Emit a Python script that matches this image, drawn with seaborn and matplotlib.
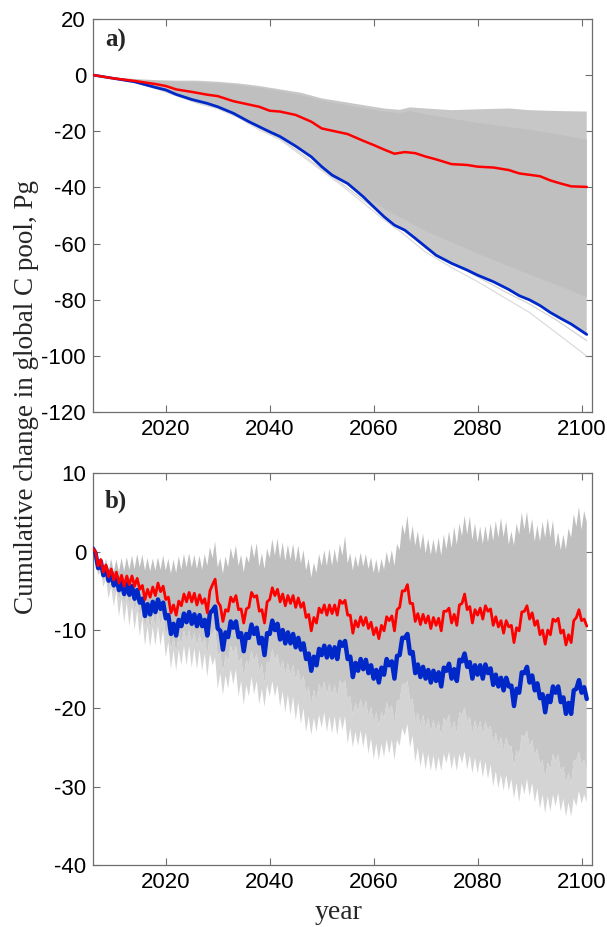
import numpy as np
import pandas as pd
import matplotlib
matplotlib.use('Agg')
import matplotlib.pyplot as plt
import seaborn as sns

# ---------------------------------------------------------------------------
# panel a: cumulative change
# ---------------------------------------------------------------------------
yrs_a = [2006, 2010, 2014, 2018, 2020, 2022, 2025, 2028, 2030, 2033, 2036, 2038, 2040,
         2042, 2045, 2048, 2050, 2052, 2055, 2058, 2060, 2062, 2064, 2066, 2068, 2070,
         2072, 2075, 2078, 2080, 2083, 2086, 2088, 2090, 2092, 2094, 2096, 2098, 2101]
red_a = [0, -1.2, -2.1, -3.2, -3.9, -5.1, -6.0, -7.0, -7.5, -9.3, -10.5, -11.3, -12.7,
         -13.0, -14.2, -16.6, -19.0, -19.8, -21.0, -23.4, -24.9, -26.5, -28.0, -27.4, -27.8, -29.0,
         -30.0, -31.7, -32.0, -32.6, -32.9, -33.8, -35.0, -35.5, -36.0, -37.5, -38.6, -39.6, -39.8]
blue_a = [0, -1.2, -2.4, -4.4, -5.3, -6.9, -8.7, -10.1, -11.3, -13.6, -16.6, -18.4, -20.2,
          -21.9, -25.3, -29.1, -32.6, -35.6, -38.6, -43.3, -46.9, -50.4, -53.4, -55.2, -58.1, -61.1,
          -64.1, -67.0, -69.4, -71.2, -73.5, -76.3, -78.5, -80.0, -82.0, -84.5, -86.6, -88.6, -92.3]

# ensemble spread in panel a
yrs_ga = [2006, 2010, 2014, 2018, 2022, 2026, 2030, 2034, 2038, 2042, 2046, 2050,
          2054, 2058, 2062, 2065, 2067, 2070, 2075, 2080, 2086, 2090, 2095, 2101]
up_out_a = [0, -0.8, -1.4, -1.8, -2.0, -2.0, -2.4, -3.0, -3.9, -5.1, -6.3, -8.3,
            -9.5, -10.7, -11.9, -12.4, -11.5, -11.9, -12.5, -12.2, -11.9, -12.5, -12.8, -13.0]
up_den_a = [0, -0.9, -1.6, -2.1, -2.4, -2.6, -3.0, -3.6, -4.6, -5.8, -7.2, -9.0,
            -10.5, -11.8, -13.0, -13.6, -12.8, -14.0, -15.5, -17.0, -18.5, -19.5, -21.0, -23.0]
lo_den_a = [0, -1.2, -2.4, -4.4, -6.9, -9.4, -11.3, -14.3, -18.4, -21.9, -26.4, -32.6,
            -37.6, -42.5, -47.5, -50.5, -52.5, -55.5, -59.5, -63.5, -68.0, -71.0, -74.5, -79.0]
low2_a = [0, -1.3, -2.5, -4.6, -7.2, -9.8, -11.7, -14.8, -19.0, -22.6, -27.8, -33.5,
          -38.8, -44.5, -50.0, -54.0, -56.8, -61.5, -66.8, -71.8, -77.8, -81.5, -87.0, -94.5]
low_a = [0, -1.3, -2.6, -4.8, -7.4, -10.0, -12.0, -15.2, -19.5, -23.0, -28.5, -34.0,
         -39.5, -45.5, -51.5, -55.5, -58.5, -63.0, -68.5, -73.5, -80.1, -84.5, -91.5, -100.0]

# ---------------------------------------------------------------------------
# panel b: half-year steps 2006.0, 2006.5, ... 2101.0
# ---------------------------------------------------------------------------
yrs_b = np.arange(2006, 2101.01, 0.5)

red_b = [0.4, 0.0, -1.8, -1.0, -2.6, -1.7, -3.2, -2.2, -3.6, -2.6,
         -4.0, -3.0, -4.4, -3.1, -4.2, -3.1, -4.4, -3.4, -4.8, -4.3,
         -6.1, -4.8, -5.8, -4.5, -5.6, -4.0, -5.1, -4.4, -6.1, -5.8,
         -7.8, -6.8, -8.1, -6.3, -6.9, -5.4, -6.4, -5.2, -6.4, -5.3,
         -6.8, -5.5, -6.6, -6.0, -7.8, -5.0, -4.2, -3.5, -6.4, -6.9,
         -8.9, -7.4, -7.6, -5.8, -6.4, -5.6, -7.4, -7.3, -9.1, -7.3,
         -7.1, -5.2, -5.8, -5.6, -7.6, -7.4, -9.1, -6.4, -6.1, -4.6,
         -5.6, -4.8, -6.4, -5.4, -6.9, -5.6, -6.6, -5.6, -7.1, -5.9,
         -7.1, -6.5, -8.4, -8.0, -10.1, -8.4, -9.1, -7.2, -7.8, -6.8,
         -8.1, -6.8, -7.9, -6.8, -8.1, -6.2, -6.6, -6.2, -8.1, -8.1,
         -10.4, -8.8, -9.6, -8.3, -9.4, -8.4, -9.8, -9.0, -10.6, -9.7,
         -11.1, -9.4, -10.1, -8.3, -8.8, -8.2, -10.1, -7.4, -7.1, -5.0,
         -5.0, -4.2, -6.6, -6.6, -8.9, -7.9, -9.3, -8.0, -9.1, -8.2,
         -9.8, -8.4, -9.4, -8.5, -10.1, -7.6, -7.6, -7.2, -9.1, -8.0,
         -9.4, -6.8, -6.6, -5.4, -7.4, -7.0, -9.1, -7.4, -8.1, -7.2,
         -8.6, -6.9, -7.6, -7.3, -9.4, -8.3, -9.6, -8.8, -10.4, -8.8,
         -9.6, -9.4, -11.6, -9.7, -10.1, -7.7, -7.6, -6.9, -8.6, -7.8,
         -9.4, -8.8, -10.6, -10.0, -11.8, -10.0, -10.6, -8.6, -8.9, -8.5,
         -10.4, -10.0, -11.9, -10.6, -11.6, -8.8, -8.4, -7.4, -8.8, -8.6,
         -9.5]

blue_b = [0.4, -0.2, -2.1, -1.2, -3.0, -2.0, -3.7, -2.6, -4.3, -3.2,
          -4.9, -3.8, -5.4, -4.1, -5.5, -4.4, -6.0, -4.9, -6.5, -6.0,
          -8.2, -6.7, -8.0, -6.4, -7.7, -6.1, -7.3, -6.5, -8.5, -8.1,
          -10.5, -9.2, -10.7, -8.7, -9.5, -7.9, -9.0, -7.7, -9.2, -8.0,
          -9.5, -8.1, -9.5, -8.7, -10.7, -7.8, -7.5, -7.0, -9.8, -10.1,
          -12.5, -10.3, -10.9, -8.9, -9.7, -8.9, -10.9, -10.4, -12.7, -10.5,
          -11.0, -9.3, -10.5, -9.7, -11.7, -11.0, -13.2, -10.4, -10.5, -8.8,
          -10.0, -9.2, -11.2, -10.0, -11.7, -10.3, -11.7, -10.5, -12.2, -11.0,
          -12.5, -11.7, -13.7, -13.0, -15.2, -13.4, -14.5, -12.4, -13.2, -12.0,
          -13.5, -12.1, -13.5, -12.2, -13.7, -11.5, -12.0, -11.4, -13.7, -13.4,
          -16.0, -14.2, -15.2, -13.7, -15.0, -13.8, -15.5, -14.5, -16.2, -15.1,
          -16.7, -14.8, -15.7, -13.7, -14.5, -14.0, -16.2, -13.3, -13.2, -11.0,
          -11.0, -10.5, -13.0, -12.8, -15.5, -14.4, -16.0, -14.7, -16.2, -15.1,
          -16.7, -15.2, -16.5, -15.4, -17.2, -14.8, -15.2, -14.3, -16.2, -15.0,
          -16.5, -13.8, -14.0, -13.0, -14.7, -14.1, -16.2, -14.5, -15.7, -14.5,
          -16.2, -14.4, -15.5, -14.9, -17.0, -15.7, -17.2, -16.1, -17.7, -16.1,
          -17.2, -17.1, -19.7, -17.5, -18.0, -15.4, -15.5, -14.7, -16.7, -15.8,
          -17.7, -16.8, -18.7, -18.2, -20.5, -18.4, -19.2, -17.2, -18.0, -17.2,
          -19.2, -18.6, -20.7, -19.3, -20.7, -17.7, -17.5, -16.4, -18.0, -17.3,
          -18.8]

# upper edge of the ensemble
up_b = [0.5, -0.3, -1.5, -0.7, -2.2, -0.9, -2.5, -0.9, -2.6, -1.0,
        -2.6, -0.8, -2.5, -0.7, -2.3, -0.5, -2.2, -0.3, -2.0, -0.4,
        -2.4, -0.8, -2.5, -0.9, -2.4, -0.7, -2.3, -0.5, -2.4, -0.9,
        -2.8, -1.0, -2.7, -0.6, -2.3, -0.3, -2.0, -0.2, -2.0, -0.4,
        -2.2, -0.5, -2.3, -0.3, -1.8, 0.6, -0.8, 1.3, -2.0, -0.8,
        -2.8, -0.6, -2.0, 0.5, -1.0, 0.8, -1.8, -0.4, -2.6, -0.5,
        -1.4, 1.0, -0.8, 1.1, -1.9, -0.2, -2.2, 0.4, -0.8, 1.6,
        -0.5, 1.7, -0.9, 1.2, -1.2, 0.9, -1.0, 1.0, -1.3, 0.8,
        -1.5, 0.2, -2.4, -0.9, -3.3, -1.4, -2.7, -0.3, -1.8, 0.2,
        -1.8, 0.4, -1.8, 0.3, -1.5, 1.0, -0.5, 2.0, -1.5, -0.2,
        -2.4, -0.5, -2.0, -0.1, -1.9, -0.3, -2.2, -0.7, -2.7, -1.0,
        -2.8, -0.9, -2.3, 0.0, -1.6, 0.2, -1.8, 1.0, 0.2, 3.5,
        2.2, 4.6, 1.2, 3.3, 0.8, 2.6, 0.3, 2.3, -0.2, 1.7,
        -0.4, 1.6, -0.3, 1.8, -0.5, 2.2, 0.3, 2.6, 0.5, 3.2,
        0.9, 3.6, 2.0, 4.6, 2.2, 4.5, 1.5, 3.6, 1.2, 3.2,
        1.0, 3.3, 1.2, 3.6, 1.4, 3.9, 1.8, 4.3, 1.9, 3.9,
        0.9, 2.6, 0.8, 3.6, 2.2, 5.0, 2.8, 5.1, 2.2, 4.2,
        1.3, 3.4, 1.3, 3.8, 1.8, 4.3, 1.8, 4.0, 0.6, 2.5,
        0.2, 2.2, 0.3, 3.0, 1.8, 4.8, 3.2, 5.7, 2.8, 5.2,
        3.8]

# lower edge of the densely packed members
dlo_b = [0.4, -1.0, -2.6, -1.8, -3.8, -2.8, -4.8, -3.5, -5.5, -4.2,
         -6.2, -4.9, -6.8, -5.3, -7.0, -5.6, -7.6, -6.2, -8.2, -7.2,
         -9.8, -8.2, -9.8, -8.0, -9.6, -7.8, -9.3, -8.2, -10.6, -9.8,
         -12.5, -11.0, -12.8, -10.7, -11.8, -10.0, -11.4, -10.0, -11.6, -10.3,
         -12.0, -10.5, -12.0, -11.0, -13.2, -10.6, -10.5, -9.8, -13.3, -12.8,
         -15.4, -13.2, -14.0, -12.0, -13.0, -12.0, -14.2, -13.5, -16.0, -13.8,
         -14.5, -12.6, -14.0, -13.0, -15.2, -14.3, -16.7, -14.0, -14.2, -12.4,
         -13.8, -13.0, -15.0, -13.8, -15.6, -14.2, -15.7, -14.4, -16.3, -15.0,
         -16.7, -15.8, -18.0, -17.2, -19.5, -17.6, -19.0, -16.8, -17.8, -16.5,
         -18.2, -16.7, -18.3, -16.9, -18.6, -16.4, -17.0, -16.4, -18.8, -18.4,
         -21.0, -19.2, -20.4, -18.8, -20.3, -19.0, -20.9, -19.8, -21.7, -20.5,
         -22.2, -20.3, -21.3, -19.2, -20.2, -19.6, -22.0, -19.0, -19.0, -16.8,
         -17.0, -16.5, -19.0, -18.8, -21.6, -20.5, -22.2, -20.8, -22.4, -21.2,
         -23.0, -21.4, -22.8, -21.6, -23.6, -21.2, -21.7, -20.8, -22.8, -21.6,
         -23.2, -20.5, -20.8, -19.8, -21.6, -21.0, -23.2, -21.5, -22.8, -21.6,
         -23.4, -21.6, -22.8, -22.2, -24.4, -23.1, -24.7, -23.6, -25.3, -23.7,
         -24.9, -24.8, -27.5, -25.3, -26.0, -23.4, -23.6, -22.8, -24.9, -24.0,
         -26.0, -25.1, -27.1, -26.6, -29.0, -26.9, -27.8, -25.8, -26.7, -25.9,
         -28.0, -27.4, -29.6, -28.2, -29.7, -26.7, -26.6, -25.5, -27.2, -26.5,
         -28.0]

# lowest member
min_b = [0.4, -1.5, -3.0, -2.5, -4.5, -3.5, -6.0, -4.5, -7.0, -5.0,
         -8.3, -6.0, -9.0, -6.5, -9.5, -7.0, -10.0, -7.5, -10.8, -8.5,
         -12.0, -9.5, -12.2, -9.6, -12.0, -9.5, -12.0, -10.0, -13.5, -11.5,
         -15.0, -12.5, -15.2, -12.5, -14.5, -12.0, -14.5, -12.0, -14.8, -12.3,
         -15.0, -12.5, -15.2, -13.0, -16.0, -13.0, -14.5, -13.5, -17.5, -15.5,
         -18.3, -15.8, -17.5, -15.0, -17.0, -15.0, -18.5, -16.5, -19.6, -17.0,
         -18.5, -16.0, -18.2, -16.5, -19.5, -17.5, -19.8, -17.0, -18.5, -16.5,
         -18.5, -17.0, -19.8, -17.8, -20.5, -18.2, -20.8, -18.5, -21.5, -19.2,
         -22.0, -20.0, -23.0, -21.0, -23.4, -21.2, -23.0, -20.8, -22.5, -20.5,
         -23.0, -21.0, -23.2, -21.0, -23.5, -21.0, -22.8, -21.0, -24.5, -22.5,
         -25.0, -23.0, -24.8, -22.8, -25.0, -23.0, -25.8, -23.8, -26.5, -24.5,
         -26.6, -24.5, -26.2, -24.0, -25.8, -24.0, -26.6, -24.0, -24.8, -22.5,
         -23.5, -22.0, -25.0, -23.5, -26.8, -25.0, -27.5, -25.5, -27.8, -25.8,
         -28.0, -26.0, -28.1, -26.2, -28.0, -25.8, -27.0, -25.5, -27.8, -26.0,
         -28.0, -25.8, -27.0, -25.5, -27.8, -26.0, -28.3, -26.3, -28.3, -26.5,
         -28.8, -26.8, -29.0, -27.2, -30.0, -28.0, -30.2, -28.5, -30.5, -28.5,
         -30.5, -29.0, -31.5, -29.5, -32.0, -29.5, -31.0, -29.0, -31.2, -29.5,
         -32.0, -30.2, -32.8, -31.0, -33.4, -31.2, -33.2, -31.0, -32.5, -30.8,
         -33.2, -31.5, -33.8, -32.0, -33.8, -31.5, -32.5, -30.5, -32.2, -31.0,
         -32.0]

xticks = [2020, 2040, 2060, 2080, 2100]
yticks_a = list(range(-120, 21, 20))
yticks_b = list(range(-40, 11, 10))

GRAY = '#bfbfbf'
LIGHT = '#c7c7c7'
PALE = '#d4d4d4'
RED = '#ff0000'
BLUE = '#0028c8'
FRAME = '#6e6e6e'
SANS = 'Liberation Sans'
SERIF = 'Liberation Serif'

sns.set_theme(style='white')
plt.rcParams['font.family'] = [SANS, 'DejaVu Sans']
plt.rcParams['axes.unicode_minus'] = False


def band(ax, x1, y1, x2, y2, color):
    # polygon between two edges, each on its own x grid
    xs = np.r_[np.asarray(x1, float), np.asarray(x2, float)[::-1]]
    ys = np.r_[np.asarray(y1, float), np.asarray(y2, float)[::-1]]
    ax.fill(xs, ys, color=color, lw=0, zorder=1)


def style(ax, yticks, ylim):
    ax.set_xlim(2006, 2102)
    ax.set_ylim(*ylim)
    ax.set_xticks(xticks)
    ax.set_yticks(yticks)
    ax.set_xlabel('')
    ax.set_ylabel('')
    ax.tick_params(direction='in', length=5, width=0.8, color=FRAME,
                   top=True, right=True, labelsize=16, pad=5,
                   bottom=True, left=True, labelcolor='black')
    for sp in ax.spines.values():
        sp.set_color(FRAME)
        sp.set_linewidth(0.9)
        sp.set_visible(True)


fig = plt.figure(figsize=(6.07, 9.27), dpi=100)
ax1 = fig.add_axes([0.1532, 0.5552, 0.822, 0.4245])
ax2 = fig.add_axes([0.1532, 0.0669, 0.822, 0.4224])

# panel a
band(ax1, yrs_ga, up_out_a, yrs_a, blue_a, LIGHT)
band(ax1, yrs_ga, up_den_a, yrs_ga, lo_den_a, GRAY)
ax1.plot(yrs_ga, low2_a, color='#d0d0d0', lw=0.8, zorder=1)
ax1.plot(yrs_ga, low_a, color='#d8d8d8', lw=0.8, zorder=1)
df_a = pd.DataFrame({'year': yrs_a, 'red': red_a, 'blue': blue_a})
sns.lineplot(data=df_a, x='year', y='blue', color=BLUE, lw=2.0, ax=ax1,
             estimator=None, sort=False, zorder=3)
sns.lineplot(data=df_a, x='year', y='red', color=RED, lw=1.8, ax=ax1,
             estimator=None, sort=False, zorder=4)
style(ax1, yticks_a, (-120, 20))
ax1.text(0.024, 0.946, 'a)', transform=ax1.transAxes, ha='left', va='center',
         fontsize=18, fontweight='bold', family=SERIF)

# panel b
band(ax2, yrs_b, dlo_b, yrs_b, min_b, PALE)
band(ax2, yrs_b, blue_b, yrs_b, dlo_b, LIGHT)
band(ax2, yrs_b, up_b, yrs_b, blue_b, GRAY)
df_b = pd.DataFrame({'year': yrs_b, 'red': red_b, 'blue': blue_b})
sns.lineplot(data=df_b, x='year', y='blue', color=BLUE, lw=3.2, ax=ax2,
             estimator=None, sort=False, zorder=3)
sns.lineplot(data=df_b, x='year', y='red', color=RED, lw=2.0, ax=ax2,
             estimator=None, sort=False, zorder=4)
style(ax2, yticks_b, (-40, 10))
ax2.text(0.024, 0.93, 'b)', transform=ax2.transAxes, ha='left', va='center',
         fontsize=18, fontweight='bold', family=SERIF)

fig.text(0.044, 0.572, 'Cumulative change in global C pool, Pg', rotation=90,
         ha='center', va='center', fontsize=19.5, family=SERIF)
fig.text(0.5585, 0.016, 'year', ha='center', va='center', fontsize=20, family=SERIF)

fig.savefig('out.png', dpi=100)
